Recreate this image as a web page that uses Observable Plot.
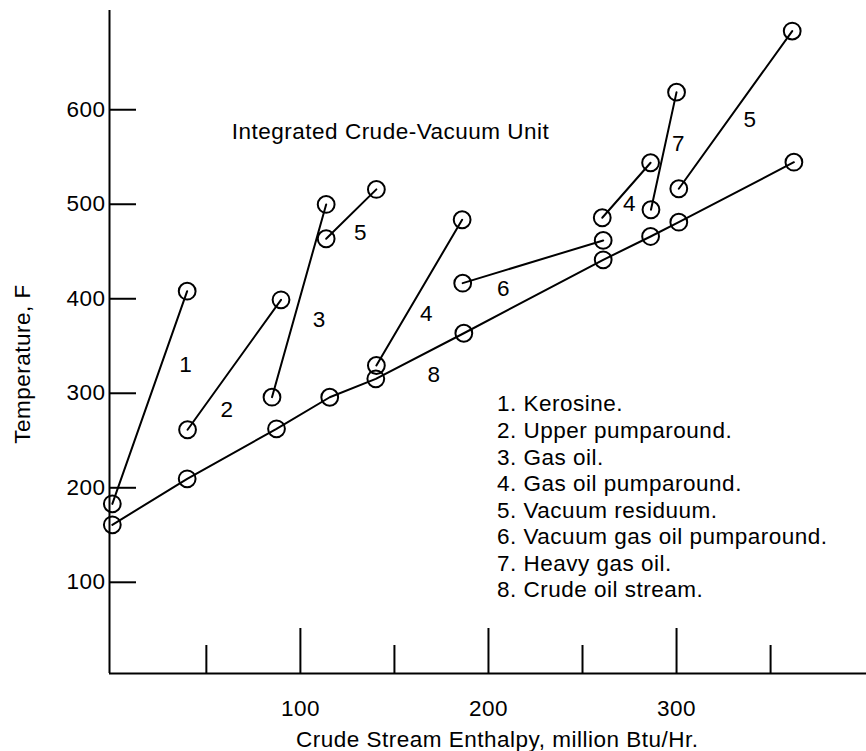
<!DOCTYPE html>
<html>
<head>
<meta charset="utf-8">
<script src="https://cdn.jsdelivr.net/npm/d3@7"></script>
<script src="https://cdn.jsdelivr.net/npm/@observablehq/plot@0.6"></script>
<style>
  html, body { margin: 0; padding: 0; background: #fff; }
</style>
</head>
<body>
<div id="chart"></div>
<script>
// ---- Axis ticks ----
const xMajorTicks = [100, 200, 300];
const xMinorTicks = [50, 150, 250, 350];
const yTicks = [100, 200, 300, 400, 500, 600];
const xDomain = [-1.5, 401];
const yDomain = [3.5, 705];

// ---- Stream segments: [enthalpy, temperature] ----
const kerosine           = [[0, 183], [39.8, 408]];
const upperPumparound    = [[40, 261.4], [89.7, 398.9]];
const gasOil             = [[84.9, 295.9], [113.7, 499.8]];
const gasOilPumparoundA  = [[140.4, 329.4], [186, 483.6]];
const gasOilPumparoundB  = [[260.5, 485.7], [286.2, 543.9]];
const vacuumResiduumA    = [[113.7, 463.5], [140.4, 515.7]];
const vacuumResiduumB    = [[301.2, 516.4], [361.5, 683.2]];
const vgoPumparound      = [[186.3, 416.5], [261, 461.7]];
const heavyGasOil        = [[286.4, 494.2], [300, 618.6]];
const crudeOil           = [[0, 160.8], [39.8, 209.5], [87.3, 262.4], [115.6, 295.8], [140.1, 315.3],
                            [186.9, 363.5], [261, 441.2], [286.2, 465.9], [301.2, 481], [362.4, 544.5]];

const segments = [
  {id: "1", points: kerosine},
  {id: "2", points: upperPumparound},
  {id: "3", points: gasOil},
  {id: "4a", points: gasOilPumparoundA},
  {id: "4b", points: gasOilPumparoundB},
  {id: "5a", points: vacuumResiduumA},
  {id: "5b", points: vacuumResiduumB},
  {id: "6", points: vgoPumparound},
  {id: "7", points: heavyGasOil},
  {id: "8", points: crudeOil}
];
const rows = segments.flatMap(s => s.points.map(([x, y]) => ({seg: s.id, x, y})));

// ---- Stream number annotations ----
const labelText = ["1", "2", "3", "4", "4", "5", "5", "6", "7", "8"];
const labelX    = [39, 61, 110, 167, 275, 132, 339, 208, 301, 171];
const labelY    = [330, 283, 378, 384, 501, 470, 589, 411, 564, 320];

// ---- Texts ----
const legendItems = [
  "1. Kerosine.",
  "2. Upper pumparound.",
  "3. Gas oil.",
  "4. Gas oil pumparound.",
  "5. Vacuum residuum.",
  "6. Vacuum gas oil pumparound.",
  "7. Heavy gas oil.",
  "8. Crude oil stream."
];
const titleText = "Integrated Crude-Vacuum Unit";
const xLabel = "Crude Stream Enthalpy, million Btu/Hr.";
const yLabel = "Temperature, F";

// ---- Layout ----
const W = 866, H = 751;
const mL = 109, mR = 0, mT = 10, mB = 78;
const frameW = W - mL - mR, frameH = H - mT - mB;
const FS = 22.5;

const chart = Plot.plot({
  width: W,
  height: H,
  marginLeft: mL,
  marginRight: mR,
  marginTop: mT,
  marginBottom: mB,
  style: "font-family: 'Liberation Sans', Arial, Helvetica, sans-serif; font-size: 22.5px; letter-spacing: 0.5px; color: #000; background: #fff;",
  x: {domain: xDomain},
  y: {domain: yDomain},
  marks: [
    Plot.axisX({ticks: xMajorTicks, tickSize: 0, tickPadding: 27, label: null, fontSize: FS}),
    Plot.axisY({ticks: yTicks, tickSize: 0, tickPadding: 4, label: null, fontSize: FS}),
    Plot.ruleX([xDomain[0]], {stroke: "#000", strokeWidth: 2}),
    Plot.ruleY([yDomain[0]], {stroke: "#000", strokeWidth: 2}),
    Plot.tickX(xMajorTicks, {x: d => d, insetTop: frameH - 45, stroke: "#000", strokeWidth: 2}),
    Plot.tickX(xMinorTicks, {x: d => d, insetTop: frameH - 28, stroke: "#000", strokeWidth: 2}),
    Plot.tickY(yTicks, {y: d => d, insetRight: frameW - 27, stroke: "#000", strokeWidth: 2}),
    Plot.line(rows, {x: "x", y: "y", z: "seg", stroke: "#000", strokeWidth: 2}),
    Plot.dot(rows, {x: "x", y: "y", r: 8.4, stroke: "#000", strokeWidth: 2, fill: "none"}),
    Plot.text(labelText, {
      x: (d, i) => labelX[i], y: (d, i) => labelY[i], text: d => d,
      textAnchor: "middle", lineAnchor: "middle", fontSize: FS, fill: "#000"
    }),
    Plot.text([titleText], {
      frameAnchor: "top-left", textAnchor: "start", lineAnchor: "top",
      dx: 122.3, dy: 112.3, fontSize: FS, fill: "#000"
    }),
    Plot.text([legendItems.join("\n")], {
      frameAnchor: "top-left", textAnchor: "start", lineAnchor: "top", lineHeight: 1.181,
      dx: 387.5, dy: 382.1, fontSize: FS, fill: "#000"
    }),
    Plot.text([xLabel], {
      frameAnchor: "bottom", textAnchor: "middle", lineAnchor: "bottom",
      dx: 9.2, dy: 73, fontSize: FS, fill: "#000"
    }),
    Plot.text([yLabel], {
      frameAnchor: "left", textAnchor: "middle", lineAnchor: "middle", rotate: -90,
      dx: -87, dy: 22, fontSize: FS, fill: "#000"
    })
  ]
});
document.getElementById("chart").appendChild(chart);
</script>
</body>
</html>
